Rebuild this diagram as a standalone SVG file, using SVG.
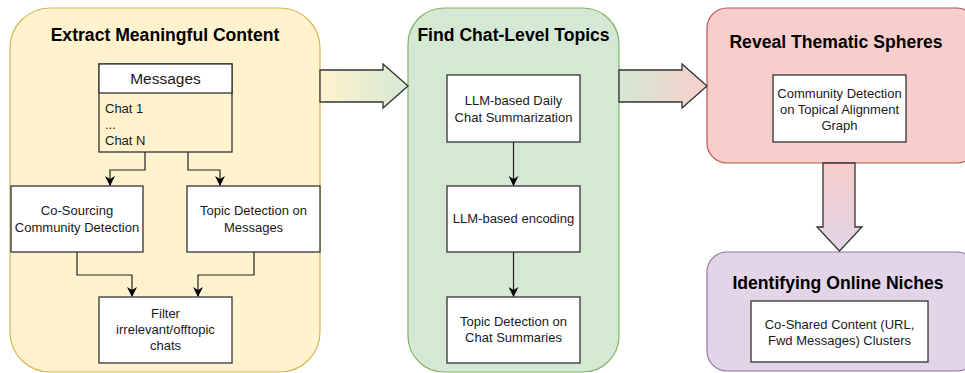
<svg xmlns="http://www.w3.org/2000/svg" width="965" height="373" viewBox="0 0 965 373">
  <defs>
    <style>
      .title { font-family: "Liberation Sans", Arial, sans-serif; font-weight: bold; font-size: 17.6px; fill: #000; text-anchor: middle; }
      .lbl { font-family: "Liberation Sans", Arial, sans-serif; font-size: 13px; fill: #1a1a1a; text-anchor: middle; }
      .lbl-l { font-family: "Liberation Sans", Arial, sans-serif; font-size: 13px; fill: #1a1a1a; }
      .box { fill: #ffffff; stroke: #333333; stroke-width: 1.3; }
      .wire { fill: none; stroke: #222222; stroke-width: 1.2; }
      .big { stroke: #333333; stroke-width: 1.3; }
    </style>
    <marker id="tip" viewBox="0 0 10 10" refX="9" refY="5" markerWidth="10" markerHeight="10" markerUnits="userSpaceOnUse" orient="auto">
      <path d="M0,0 L10,5 L0,10 L3,5 Z" fill="#000"/>
    </marker>
    <linearGradient id="gYG" x1="0" y1="0" x2="1" y2="0">
      <stop offset="0" stop-color="#fff2cc"/>
      <stop offset="1" stop-color="#d5e8d4"/>
    </linearGradient>
    <linearGradient id="gGR" x1="0" y1="0" x2="1" y2="0">
      <stop offset="0" stop-color="#d5e8d4"/>
      <stop offset="1" stop-color="#f8cecc"/>
    </linearGradient>
    <linearGradient id="gRP" x1="0" y1="0" x2="0" y2="1">
      <stop offset="0" stop-color="#f8cecc"/>
      <stop offset="1" stop-color="#e1d5e7"/>
    </linearGradient>
  </defs>

  <!-- Stage 1 -->
  <g id="stage-extract">
    <rect x="10" y="8" width="310" height="364" rx="40" ry="40" fill="#fff2cc" stroke="#d6b656" stroke-width="1.2"/>
    <text class="title" x="165" y="41">Extract Meaningful Content</text>
  </g>
  <g id="messages">
    <rect x="99" y="64" width="133" height="88" fill="#fff2cc" stroke="#333333" stroke-width="1.3"/>
    <rect x="99" y="64" width="133" height="29" class="box"/>
    <text x="165.5" y="84" font-family="Liberation Sans, Arial, sans-serif" font-size="15.5" text-anchor="middle" fill="#1a1a1a">Messages</text>
    <text class="lbl-l" x="105" y="113">Chat 1</text>
    <text class="lbl-l" x="105" y="129">...</text>
    <text class="lbl-l" x="105" y="145">Chat N</text>
  </g>
  <g id="co-sourcing">
    <rect x="11" y="186" width="132" height="66" class="box"/>
    <text class="lbl" x="77" y="215">Co-Sourcing</text>
    <text class="lbl" x="77" y="232">Community Detection</text>
  </g>
  <g id="topic-messages">
    <rect x="187" y="186" width="133" height="66" class="box"/>
    <text class="lbl" x="253.5" y="215">Topic Detection on</text>
    <text class="lbl" x="253.5" y="232">Messages</text>
  </g>
  <g id="filter">
    <rect x="99" y="297" width="133" height="66" class="box"/>
    <text class="lbl" x="165.5" y="318">Filter</text>
    <text class="lbl" x="165.5" y="334">irrelevant/offtopic</text>
    <text class="lbl" x="165.5" y="350">chats</text>
  </g>

  <!-- Stage 2 -->
  <g id="stage-topics">
    <rect x="408" y="8" width="211" height="364" rx="36" ry="36" fill="#d5e8d4" stroke="#82b366" stroke-width="1.2"/>
    <text class="title" x="513.5" y="41">Find Chat-Level Topics</text>
  </g>
  <g id="summarization">
    <rect x="447" y="75" width="133" height="67" class="box"/>
    <text class="lbl" x="513.5" y="105">LLM-based Daily</text>
    <text class="lbl" x="513.5" y="122">Chat Summarization</text>
  </g>
  <g id="encoding">
    <rect x="447" y="186" width="133" height="66" class="box"/>
    <text class="lbl" x="513.5" y="223">LLM-based encoding</text>
  </g>
  <g id="topic-summaries">
    <rect x="447" y="297" width="133" height="66" class="box"/>
    <text class="lbl" x="513.5" y="326">Topic Detection on</text>
    <text class="lbl" x="513.5" y="342">Chat Summaries</text>
  </g>

  <!-- Stage 3 -->
  <g id="stage-spheres">
    <rect x="707" y="8" width="270" height="155" rx="20" ry="20" fill="#f8cecc" stroke="#b85450" stroke-width="1.2"/>
    <text class="title" x="836" y="48">Reveal Thematic Spheres</text>
  </g>
  <g id="alignment-graph">
    <rect x="773" y="75" width="133" height="67" class="box"/>
    <text class="lbl" x="839.5" y="98">Community Detection</text>
    <text class="lbl" x="839.5" y="114">on Topical Alignment</text>
    <text class="lbl" x="839.5" y="130">Graph</text>
  </g>

  <!-- Stage 4 -->
  <g id="stage-niches">
    <rect x="707" y="252" width="270" height="119" rx="20" ry="20" fill="#e1d5e7" stroke="#9673a6" stroke-width="1.2"/>
    <text class="title" x="838" y="289">Identifying Online Niches</text>
  </g>
  <g id="co-shared">
    <rect x="751" y="301" width="177" height="61" class="box"/>
    <text class="lbl" x="839.5" y="329">Co-Shared Content (URL,</text>
    <text class="lbl" x="839.5" y="345">Fwd Messages) Clusters</text>
  </g>

  <!-- Connectors -->
  <g id="connectors">
    <path class="wire" d="M145,152 V170 H110 V185" marker-end="url(#tip)"/>
    <path class="wire" d="M188,152 V170 H220 V185" marker-end="url(#tip)"/>
    <path class="wire" d="M77,252 V275 H132 V296" marker-end="url(#tip)"/>
    <path class="wire" d="M254,252 V275 H198 V296" marker-end="url(#tip)"/>
    <path class="wire" d="M513.5,142 V185" marker-end="url(#tip)"/>
    <path class="wire" d="M513.5,252 V296" marker-end="url(#tip)"/>
    <path class="big" fill="url(#gYG)" d="M320,70 H383 V64 L408,86 L383,108 V102 H320 Z"/>
    <path class="big" fill="url(#gGR)" d="M619,70 H682 V64 L707,86 L682,108 V102 H619 Z"/>
    <path class="big" fill="url(#gRP)" d="M823,163 V227 H817 L839.5,251 L862,227 H855 V163 Z"/>
  </g>
</svg>
